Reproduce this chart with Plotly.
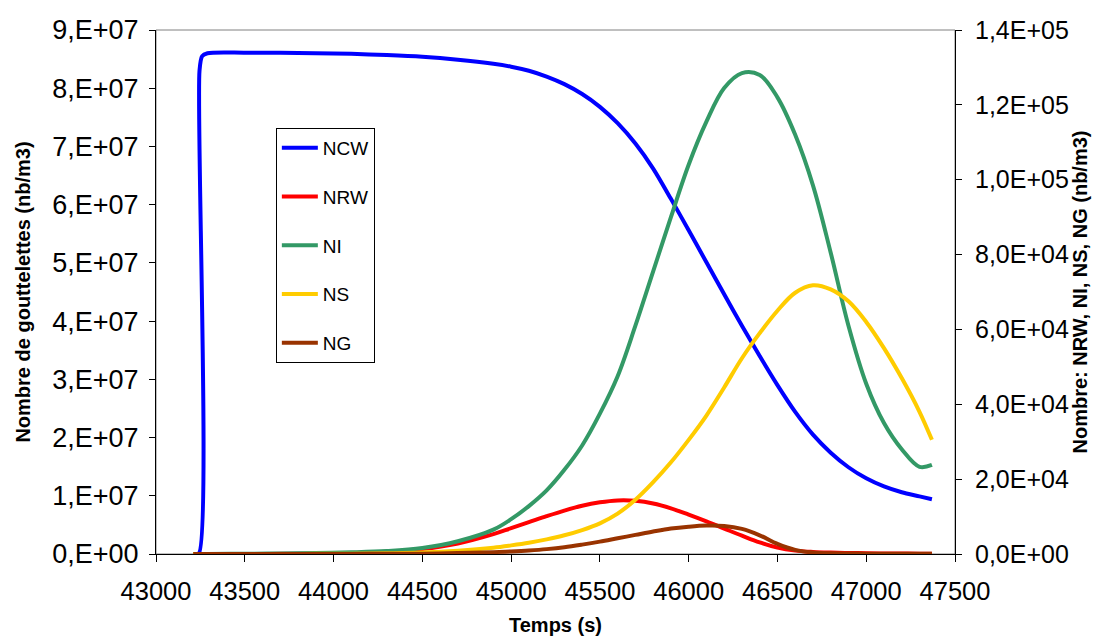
import plotly.graph_objects as go

# ---- data ----
time_s = [43210, 43240, 43245, 43260, 43290, 43500, 43700, 43900, 44100, 44300,
          44500, 44700, 44900, 45000, 45100, 45200, 45300, 45400, 45500, 45600,
          45700, 45800, 45900, 46000, 46100, 46200, 46300, 46400, 46500, 46600,
          46700, 46800, 46900, 47000, 47100, 47200, 47300, 47370]

NCW = [0, 0, 8.3e7, 8.55e7, 8.6e7, 8.61e7, 8.61e7, 8.6e7, 8.59e7, 8.57e7,
       8.54e7, 8.49e7, 8.42e7, 8.37e7, 8.3e7, 8.2e7, 8.07e7, 7.9e7, 7.68e7, 7.4e7,
       7.05e7, 6.62e7, 6.1e7, 5.56e7, 5.01e7, 4.46e7, 3.92e7, 3.4e7, 2.9e7, 2.44e7,
       2.05e7, 1.74e7, 1.49e7, 1.3e7, 1.16e7, 1.06e7, 9.9e6, 9.4e6]

NRW = [0, 0, 0, 0, 0, 20, 40, 100, 250, 600,
       1300, 2800, 5300, 6900, 8500, 10100, 11600, 12900, 13800, 14300,
       14200, 13500, 12200, 10500, 8700, 6800, 4900, 3100, 1700, 900,
       550, 380, 280, 200, 150, 110, 90, 80]

NI = [0, 0, 0, 0, 0, 80, 120, 250, 450, 800,
      1600, 3400, 6500, 9300, 12800, 17000, 22500, 29000, 37500, 47500,
      61000, 75500, 90000, 104000, 115500, 124500, 128500, 128000, 122000, 112000,
      98500, 80500, 61000, 45500, 35000, 28000, 23300, 23800]

NS = [0, 0, 0, 0, 0, 10, 20, 50, 100, 200,
      400, 900, 1700, 2300, 3000, 3900, 5000, 6400, 8200, 10800,
      14500, 19200, 24500, 30500, 37000, 44500, 52300, 59000, 65000, 69800,
      71800, 70700, 67500, 62000, 55000, 47000, 38000, 30500]

NG = [0, 0, 0, 0, 0, 5, 10, 20, 30, 50,
      100, 250, 500, 700, 950, 1300, 1800, 2500, 3300, 4200,
      5100, 6000, 6800, 7300, 7600, 7500, 6700, 5000, 2700, 1100,
      400, 200, 150, 100, 80, 60, 50, 50]

x_ticks = [43000, 43500, 44000, 44500, 45000, 45500, 46000, 46500, 47000, 47500]
x_tick_text = ["43000", "43500", "44000", "44500", "45000", "45500", "46000", "46500", "47000", "47500"]
left_ticks = [0, 1e7, 2e7, 3e7, 4e7, 5e7, 6e7, 7e7, 8e7, 9e7]
left_tick_text = ["0,E+00", "1,E+07", "2,E+07", "3,E+07", "4,E+07", "5,E+07", "6,E+07", "7,E+07", "8,E+07", "9,E+07"]
right_ticks = [0, 2e4, 4e4, 6e4, 8e4, 1e5, 1.2e5, 1.4e5]
right_tick_text = ["0,0E+00", "2,0E+04", "4,0E+04", "6,0E+04", "8,0E+04", "1,0E+05", "1,2E+05", "1,4E+05"]

FONT = "Liberation Sans, Arial, sans-serif"
LW = 4

fig = go.Figure()
fig.add_trace(go.Scatter(x=time_s, y=NCW, name="NCW", mode="lines", yaxis="y",
                         line=dict(color="#0000FF", width=LW, shape="spline", smoothing=0.8),
                         legendgroup="a"))
for name, vals, col, grp in [("NRW", NRW, "#FF0000", "b"), ("NI", NI, "#339966", "c"),
                             ("NS", NS, "#FFCC00", "d"), ("NG", NG, "#993300", "e")]:
    fig.add_trace(go.Scatter(x=time_s, y=vals, name=name, mode="lines", yaxis="y2",
                             line=dict(color=col, width=LW, shape="spline", smoothing=1.0),
                             legendgroup=grp))

titlefont = dict(family=FONT, size=20, color="black")

fig.update_layout(
    width=1106, height=639,
    margin=dict(l=148, r=159, t=22, b=93),
    paper_bgcolor="white", plot_bgcolor="white",
    font=dict(family=FONT, color="black"),
    xaxis=dict(range=[43000, 47500], tickvals=x_ticks, ticktext=x_tick_text,
               ticks="outside", ticklen=7, tickcolor="black", tickwidth=1,
               showline=True, linecolor="black", linewidth=1, showgrid=False, zeroline=False,
               tickfont=dict(family=FONT, size=25.5, color="black"),
               ticklabelstandoff=7, automargin=False,
               title=dict(text="<b>Temps (s)</b>", font=titlefont, standoff=14)),
    yaxis=dict(range=[0, 9e7], tickvals=left_ticks, ticktext=left_tick_text,
               ticks="outside", ticklen=6, tickcolor="black", tickwidth=1,
               showline=True, linecolor="black", linewidth=1, showgrid=False, zeroline=False,
               tickfont=dict(family=FONT, size=27, color="black"),
               ticklabelstandoff=5, automargin=False,
               title=dict(text="<b>Nombre de gouttelettes (nb/m3)</b>", font=titlefont, standoff=16)),
    yaxis2=dict(range=[0, 1.4e5], tickvals=right_ticks, ticktext=right_tick_text,
                overlaying="y", side="right",
                ticks="outside", ticklen=6, tickcolor="black", tickwidth=1,
                showline=True, linecolor="black", linewidth=1, showgrid=False, zeroline=False,
                tickfont=dict(family=FONT, size=25, color="black"),
                ticklabelstandoff=8, automargin=False,
                title=dict(text="<b>Nombre: NRW, NI, NS, NG (nb/m3)</b>", font=titlefont, standoff=5)),
    yaxis3=dict(range=[0, 1.4e5], tickvals=right_ticks, showticklabels=False,
                overlaying="y", side="right", anchor="x", automargin=False,
                ticks="inside", ticklen=6, tickcolor="black", tickwidth=1,
                showline=False, showgrid=False, zeroline=False),
    legend=dict(x=0.15, y=0.813, xanchor="left", yanchor="top",
                bgcolor="white", bordercolor="black", borderwidth=1,
                font=dict(family=FONT, size=19, color="black"),
                tracegroupgap=21, itemwidth=36),
    showlegend=True,
)
# plot-area frame (gray top border as in the reference)
fig.add_shape(type="rect", xref="paper", yref="paper", x0=0, x1=1, y0=0, y1=1,
              line=dict(color="#808080", width=1), layer="below")

fig.write_html("out.html")
